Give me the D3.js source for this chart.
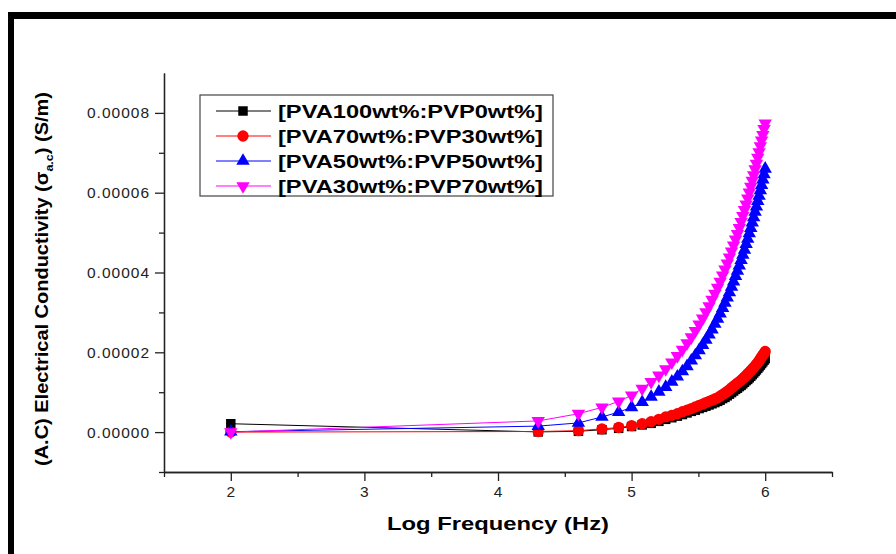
<!DOCTYPE html>
<html>
<head>
<meta charset="utf-8">
<script src="https://cdn.jsdelivr.net/npm/d3@7"></script>
<style>
  body { margin: 0; background: #fff; }
  text { font-family: "Liberation Sans", Arial, sans-serif; }
</style>
</head>
<body>
<svg id="svg1" width="896" height="554"></svg>
<script>
// frequency in kHz, plotted as log10(Hz)
var freqKHz = [0.1, 20, 40, 60, 80, 100, 120, 140, 160, 180, 200, 220, 240, 260, 280, 300,
  320, 340, 360, 380, 400, 420, 440, 460, 480, 500, 520, 540, 560, 580, 600, 620, 640, 660,
  680, 700, 720, 740, 760, 780, 800, 820, 840, 860, 880, 900, 920, 940, 960, 980, 1000];

// A.C conductivity, in units of 1e-6 S/m
var pva100 = [2.1, 0.05, 0.2, 0.6, 0.95, 1.4, 1.8, 2.2, 2.7, 3.2, 3.6, 4.0, 4.4, 4.8, 5.2, 5.5,
  5.9, 6.2, 6.5, 6.8, 7.1, 7.4, 7.7, 8.0, 8.4, 8.7, 9.1, 9.5, 9.9, 10.3, 10.7, 11.0, 11.4, 11.7,
  12.1, 12.5, 12.9, 13.2, 13.6, 14.0, 14.4, 14.8, 15.2, 15.6, 16.0, 16.4, 16.8, 17.2, 17.6, 18.0, 18.4];
var pva70 = [0, 0.15, 0.35, 0.8, 1.15, 1.6, 2.1, 2.6, 3.2, 3.8, 4.2, 4.6, 5.1, 5.5, 5.9, 6.3,
  6.7, 7.0, 7.4, 7.7, 8.0, 8.3, 8.6, 9.0, 9.4, 9.8, 10.2, 10.6, 11.1, 11.5, 11.9, 12.3, 12.6, 13.0,
  13.4, 13.8, 14.2, 14.6, 15.0, 15.4, 15.8, 16.2, 16.6, 17.0, 17.4, 17.9, 18.4, 18.8, 19.3, 19.7, 20.2];
var pva50 = [0.1, 1.5, 2.3, 3.8, 5.0, 6.2, 7.5, 8.8, 10.1, 11.3, 12.6, 13.9, 15.2, 16.5, 17.9, 19.2,
  20.5, 21.8, 23.1, 24.4, 25.7, 27.1, 28.4, 29.7, 31.1, 32.4, 33.7, 35.0, 36.4, 37.7, 39.1, 40.4, 41.7, 43.1,
  44.4, 45.7, 47.1, 48.4, 49.8, 51.1, 52.5, 53.8, 55.2, 56.5, 57.9, 59.2, 60.6, 61.9, 63.3, 64.6, 66.0];
var pva30 = [0, 2.8, 4.6, 6.2, 7.7, 9.2, 10.9, 12.6, 14.2, 15.8, 17.5, 19.1, 20.7, 22.3, 23.8, 25.4,
  27.0, 28.5, 30.1, 31.6, 33.2, 34.7, 36.2, 37.7, 39.3, 40.8, 42.3, 43.8, 45.3, 46.8, 48.3, 49.7, 51.2, 52.7,
  54.2, 55.7, 57.1, 58.6, 60.1, 61.5, 63.0, 64.4, 65.9, 67.3, 68.8, 70.2, 71.7, 73.1, 74.5, 76.0, 77.4];

var seriesNames = ['[PVA100wt%:PVP0wt%]', '[PVA70wt%:PVP30wt%]', '[PVA50wt%:PVP50wt%]', '[PVA30wt%:PVP70wt%]'];
var seriesColors = ['#000000', '#ff0000', '#0000ff', '#ff00ff'];
var xTicks = [2, 3, 4, 5, 6];
var yTicks = [0, 0.00002, 0.00004, 0.00006, 0.00008];

var UNIT = 1e-6;

var svg = d3.select('#svg1');

// scales
var x = d3.scaleLinear().domain([1.5, 6.5]).range([164, 832]);
var y = d3.scaleLinear().domain([-0.00001, 0.00009]).range([472, 73]);

// page frame (thick top and left bars)
svg.append('rect').attr('x', 8).attr('y', 12).attr('width', 888).attr('height', 7).attr('fill', '#000');
svg.append('rect').attr('x', 8).attr('y', 12).attr('width', 6).attr('height', 542).attr('fill', '#000');

// minor ticks
svg.append('g')
  .attr('transform', 'translate(0,472)')
  .call(d3.axisBottom(x).tickValues([1.5, 2.5, 3.5, 4.5, 5.5, 6.5]).tickSize(5).tickSizeOuter(0).tickFormat(''));
svg.append('g')
  .attr('transform', 'translate(164,0)')
  .call(d3.axisLeft(y).tickValues([-0.00001, 0.00001, 0.00003, 0.00005, 0.00007]).tickSize(5).tickSizeOuter(0).tickFormat(''));

// main axes
svg.append('g')
  .attr('transform', 'translate(0,472)')
  .call(d3.axisBottom(x).tickValues(xTicks).tickSize(9).tickSizeOuter(0).tickPadding(5).tickFormat(d3.format('d')));
svg.append('g')
  .attr('transform', 'translate(164,0)')
  .call(d3.axisLeft(y).tickValues(yTicks).tickSize(9).tickSizeOuter(0).tickPadding(5).tickFormat(d3.format('.5f')));

svg.selectAll('.domain, .tick line').attr('stroke', '#222').attr('stroke-width', 1.3);
svg.selectAll('.tick text')
  .attr('fill', '#222')
  .style('font-size', '15.5px')
  .style('letter-spacing', '1px');

// axis titles
svg.append('text')
  .attr('x', 498).attr('y', 530)
  .attr('text-anchor', 'middle')
  .attr('textLength', 222).attr('lengthAdjust', 'spacingAndGlyphs')
  .style('font-size', '18px').style('font-weight', 'bold')
  .text('Log Frequency (Hz)');

var yTitle = svg.append('text')
  .attr('transform', 'translate(48,279) rotate(-90)')
  .attr('text-anchor', 'middle')
  .attr('textLength', 374).attr('lengthAdjust', 'spacingAndGlyphs')
  .style('font-size', '17.5px').style('font-weight', 'bold');
yTitle.append('tspan').text('(A.C) Electrical Conductivity (\u03c3');
yTitle.append('tspan').attr('dy', 5).style('font-size', '11px').text('a.c');
yTitle.append('tspan').attr('dy', -5).text(') (S/m)');

// data
var allSeries = [pva100, pva70, pva50, pva30].map(function(vals) {
  return vals.map(function(v, j) {
    return { lf: Math.log10(freqKHz[j] * 1000), v: v * UNIT };
  });
});

var symbolTypes = [d3.symbolSquare, d3.symbolCircle, d3.symbolTriangle, d3.symbolTriangle];
var symbolSizes = [90, 100, 78, 78];
var symbolRotate = [0, 0, 0, 180];

function symbolPath(i) {
  return d3.symbol().type(symbolTypes[i]).size(symbolSizes[i])();
}

var line = d3.line()
  .x(function(d) { return x(d.lf); })
  .y(function(d) { return y(d.v); });

allSeries.forEach(function(data, i) {
  var g = svg.append('g');
  g.append('path')
    .datum(data)
    .attr('fill', 'none')
    .attr('stroke', seriesColors[i])
    .attr('stroke-width', 1)
    .attr('d', line);
  g.selectAll('path.pt')
    .data(data)
    .enter()
    .append('path')
      .attr('class', 'pt')
      .attr('d', symbolPath(i))
      .attr('fill', seriesColors[i])
      .attr('transform', function(d) {
        return 'translate(' + x(d.lf) + ',' + y(d.v) + ') rotate(' + symbolRotate[i] + ')';
      });
});

// legend
var legend = svg.append('g');
legend.append('rect')
  .attr('x', 200).attr('y', 95).attr('width', 353).attr('height', 101)
  .attr('fill', '#fff').attr('stroke', '#444').attr('stroke-width', 1.2);

seriesNames.forEach(function(name, i) {
  var ly = 111 + i * 25;
  legend.append('line')
    .attr('x1', 216).attr('x2', 271).attr('y1', ly).attr('y2', ly)
    .attr('stroke', seriesColors[i]).attr('stroke-width', 1);
  legend.append('path')
    .attr('d', symbolPath(i))
    .attr('fill', seriesColors[i])
    .attr('transform', 'translate(243,' + ly + ') rotate(' + symbolRotate[i] + ')');
  legend.append('text')
    .attr('x', 278).attr('y', ly + 6.5)
    .attr('textLength', 265).attr('lengthAdjust', 'spacingAndGlyphs')
    .style('font-size', '18px').style('font-weight', 'bold')
    .text(name);
});
</script>
</body>
</html>
